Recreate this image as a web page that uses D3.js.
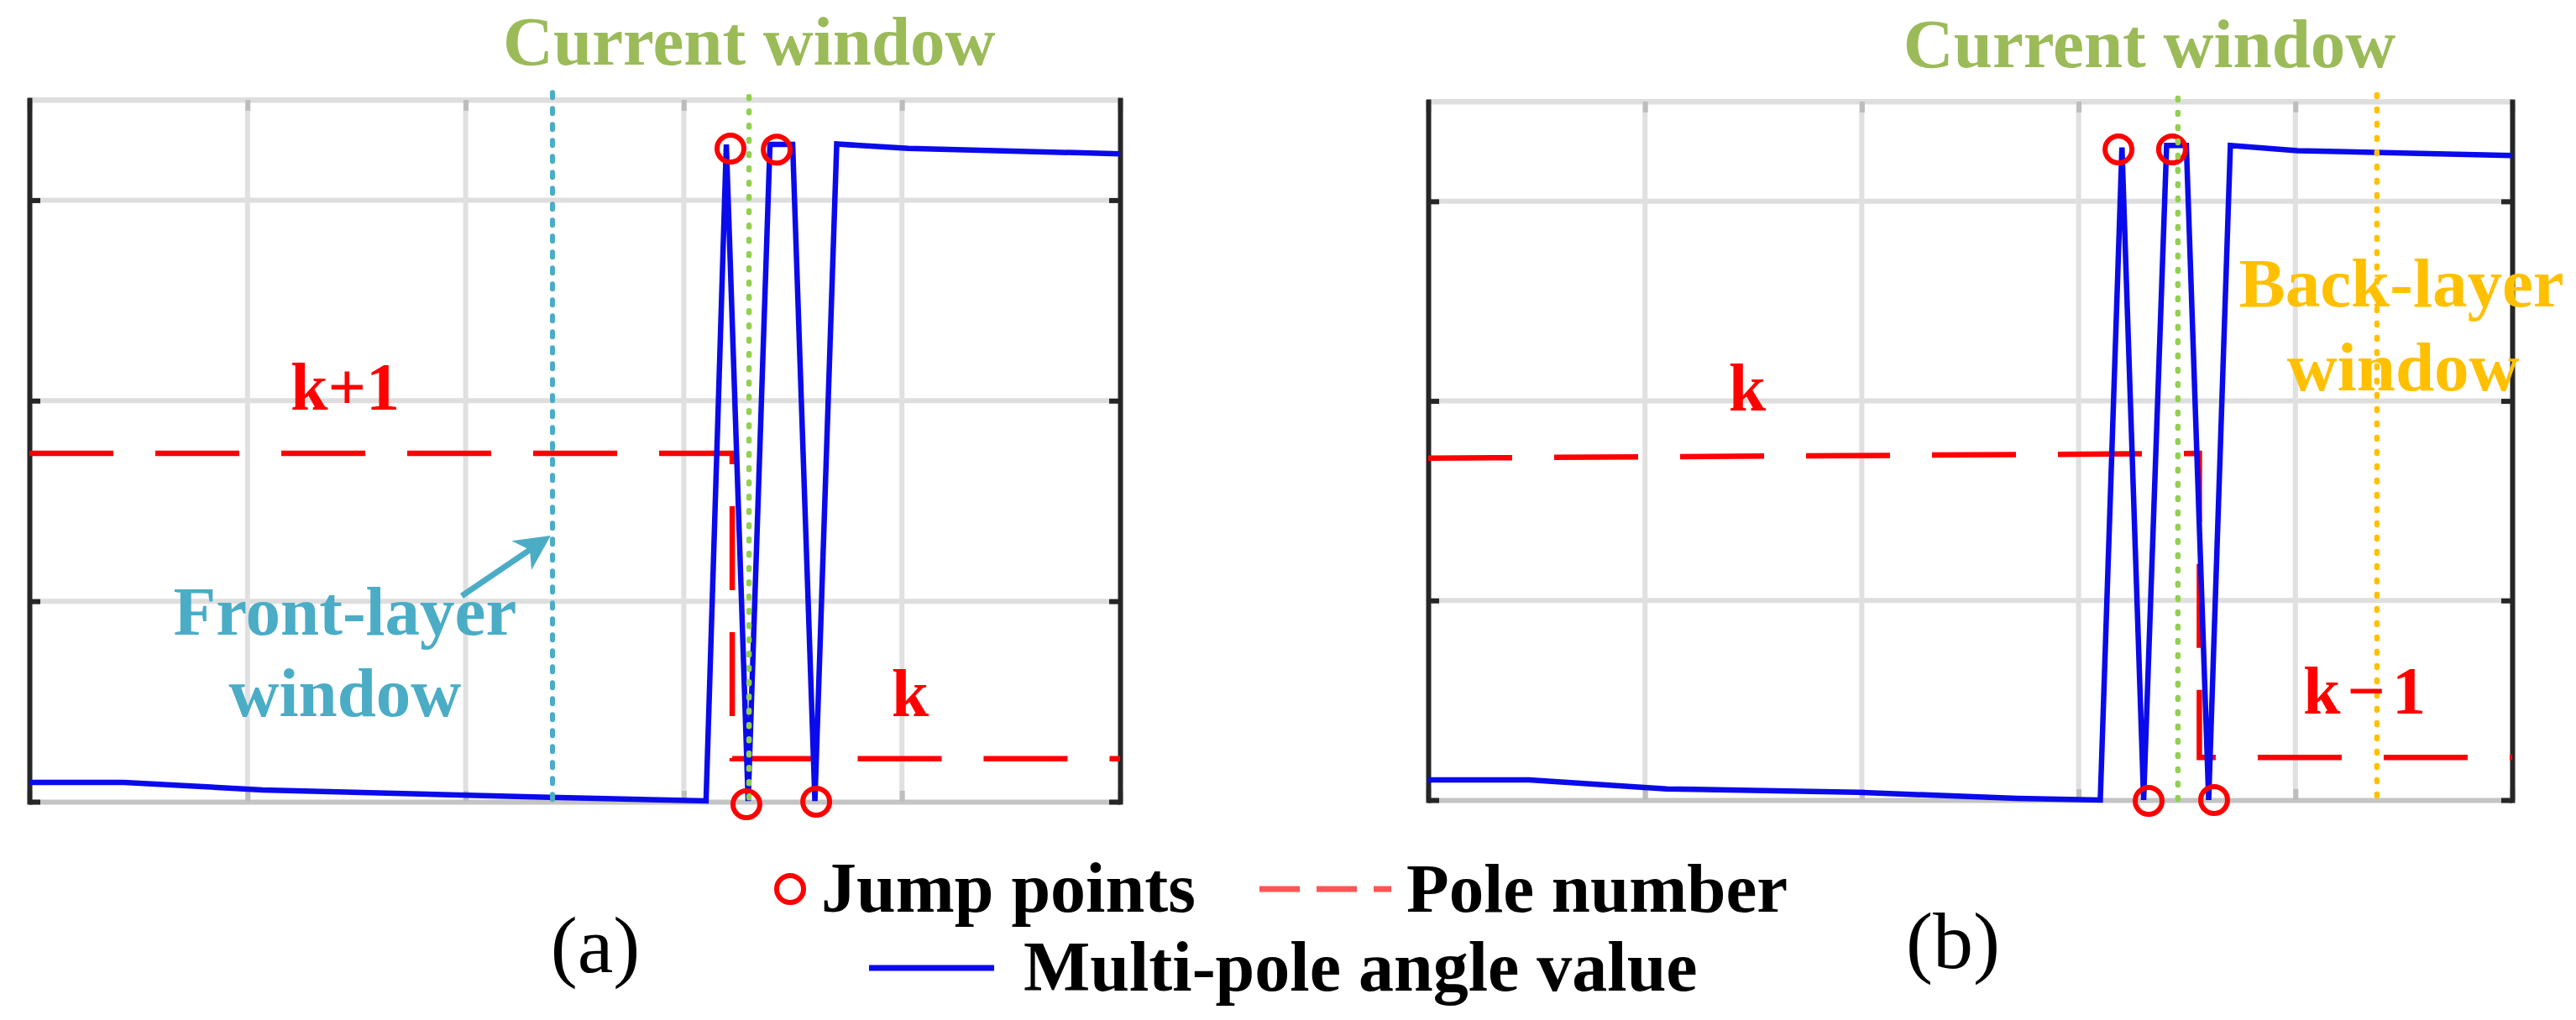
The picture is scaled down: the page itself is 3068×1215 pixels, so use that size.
<!DOCTYPE html>
<html>
<head>
<meta charset="utf-8">
<script src="https://cdn.jsdelivr.net/npm/d3@7"></script>
<style>
  body { margin: 0; background: #fff; }
  text { font-family: "Liberation Serif", "Times New Roman", serif; }
</style>
</head>
<body>
<svg id="chart" width="3068" height="1215"></svg>
<script>
// ticks (no labels shown in the figure)
const xTicks = [0, 1, 2, 3, 4, 5]
const yTicks = [0, 1, 2, 3]

// panel (a)
const angleA_x = [0, 0.433, 1.07, 2.344, 3.102, 3.195, 3.295, 3.395, 3.499, 3.601, 3.701, 4.03, 5]
const angleA_y = [0.096, 0.096, 0.059, 0.023, 0.004, 3.278, 0.004, 3.278, 3.278, 0.004, 3.28, 3.258, 3.231]
const poleA_x = [0, 3.222, 3.222, 5]
const poleA_y = [1.737, 1.737, 0.215, 0.215]
const jumpA_x = [3.214, 3.426, 3.287, 3.607]
const jumpA_y = [3.257, 3.252, -0.013, 0]

// panel (b)
const angleB_x = [0, 0.466, 1.10, 1.98, 2.715, 3.10, 3.20, 3.30, 3.406, 3.497, 3.60, 3.70, 4.01, 5]
const angleB_y = [0.101, 0.101, 0.056, 0.039, 0.008, 0.0, 3.27, 0.0, 3.28, 3.28, 0.0, 3.28, 3.254, 3.23]
const poleB_x = [0, 3.557, 3.557, 5]
const poleB_y = [1.713, 1.737, 0.214, 0.214]
const jumpB_x = [3.184, 3.431, 3.323, 3.625]
const jumpB_y = [3.26, 3.26, -0.004, 0]

// window positions (x) and top of the dotted lines (y)
const windowsA = [{name: "front", x: 2.398, top: 3.537}, {name: "current", x: 3.299, top: 3.516}]
const windowsB = [{name: "current", x: 3.458, top: 3.517}, {name: "back", x: 4.376, top: 3.534}]

const colors = {
  angle: "#0a0aeb", pole: "#ff0000", jump: "#ff0000",
  front: "#4bacc6", current: "#92d050", back: "#ffc000",
  currentText: "#9bbb59"
}

var svg = d3.select("#chart")
svg.append("rect").attr("width", 3068).attr("height", 1215).attr("fill", "#fff")

function zip(xs, ys) { return xs.map((d, i) => [d, ys[i]]) }

function draw_panel(box, d) {
  const x = d3.scaleLinear().domain([0, 5]).range([box.x0, box.x1])
  const y = d3.scaleLinear().domain([0, 3.5]).range([box.y1, box.y0])
  const g = svg.append("g")

  // grid
  g.selectAll(".hgrid").data([1, 2, 3, 3.5]).join("line")
    .attr("x1", box.x0).attr("x2", box.x1)
    .attr("y1", v => y(v)).attr("y2", v => y(v))
    .attr("stroke", "#dedede").attr("stroke-width", 6)
  g.selectAll(".vgrid").data([1, 2, 3, 4]).join("line")
    .attr("x1", v => x(v)).attr("x2", v => x(v))
    .attr("y1", box.y0).attr("y2", box.y1)
    .attr("stroke", "#e0e0e0").attr("stroke-width", 6)

  // x axes, gray
  const xb = g.append("g").attr("transform", `translate(0,${box.y1})`)
    .call(d3.axisBottom(x).tickValues(xTicks).tickSize(-13).tickSizeOuter(0).tickFormat(""))
  const xt = g.append("g").attr("transform", `translate(0,${box.y0})`)
    .call(d3.axisTop(x).tickValues(xTicks).tickSize(-13).tickSizeOuter(0).tickFormat(""))
  xb.select(".domain").attr("stroke", "#c4c4c4").attr("stroke-width", 6)
  xt.select(".domain").attr("stroke", "#dedede").attr("stroke-width", 6)
  g.selectAll(".tick line").attr("stroke", "#bdbdbd").attr("stroke-width", 6)

  // y axes, dark
  const yl = g.append("g").attr("transform", `translate(${box.x0},0)`)
    .call(d3.axisLeft(y).tickValues(yTicks).tickSize(-13).tickSizeOuter(0).tickFormat(""))
  const yr = g.append("g").attr("transform", `translate(${box.x1},0)`)
    .call(d3.axisRight(y).tickValues(yTicks).tickSize(-13).tickSizeOuter(0).tickFormat(""))
  ;[yl, yr].forEach(a => {
    a.select(".domain").attr("stroke", "#262626").attr("stroke-width", 6).attr("stroke-linecap", "square")
    a.selectAll(".tick line").attr("stroke", "#262626").attr("stroke-width", 6)
  })

  const line = d3.line().x(p => x(p[0])).y(p => y(p[1]))

  // pole number
  g.append("path").attr("d", line(zip(d.poleX, d.poleY)))
    .attr("fill", "none").attr("stroke", colors.pole).attr("stroke-width", 6.5)
    .attr("stroke-dasharray", "100 50")

  // multi-pole angle
  g.append("path").attr("d", line(zip(d.angleX, d.angleY)))
    .attr("fill", "none").attr("stroke", colors.angle).attr("stroke-width", 6.5)
    .attr("stroke-linejoin", "miter")

  // jump points
  g.selectAll(".jump").data(zip(d.jumpX, d.jumpY)).join("circle")
    .attr("cx", p => x(p[0])).attr("cy", p => y(p[1])).attr("r", 16)
    .attr("fill", "none").attr("stroke", colors.jump).attr("stroke-width", 6)

  // window lines
  d.windows.forEach(w => {
    g.append("line")
      .attr("x1", x(w.x)).attr("x2", x(w.x))
      .attr("y1", y(w.top)).attr("y2", y(0))
      .attr("stroke", colors[w.name]).attr("stroke-width", w.name == "front" ? 6 : 6.5)
      .attr("stroke-linecap", "round")
      .attr("stroke-dasharray", w.name == "front" ? "6 13" : "2 15")
  })

  // labels
  d.labels.forEach(l => {
    g.append("text").attr("x", x(l.x)).attr("y", y(l.y))
      .attr("text-anchor", "middle").attr("font-weight", "bold")
      .attr("font-size", l.size || 82).attr("fill", l.color)
      .attr("letter-spacing", l.spacing || 0)
      .text(l.text)
  })
  return {x: x, y: y, g: g}
}

var pa = draw_panel({x0: 35, x1: 1334, y0: 119, y1: 955}, {
  angleX: angleA_x, angleY: angleA_y, poleX: poleA_x, poleY: poleA_y,
  jumpX: jumpA_x, jumpY: jumpA_y, windows: windowsA,
  labels: [
    {text: "Current window", x: 3.30, y: 3.675, color: colors.currentText, size: 83},
    {text: "k+1", x: 1.447, y: 1.955, color: colors.pole, size: 80},
    {text: "k", x: 4.038, y: 0.427, color: colors.pole, size: 80},
    {text: "Front-layer", x: 1.447, y: 0.833, color: colors.front, size: 83},
    {text: "window", x: 1.447, y: 0.427, color: colors.front, size: 83}
  ]
})

var pb = draw_panel({x0: 1701, x1: 2992, y0: 121, y1: 953}, {
  angleX: angleB_x, angleY: angleB_y, poleX: poleB_x, poleY: poleB_y,
  jumpX: jumpB_x, jumpY: jumpB_y, windows: windowsB,
  labels: [
    {text: "Current window", x: 3.327, y: 3.673, color: colors.currentText, size: 83},
    {text: "k", x: 1.472, y: 1.952, color: colors.pole, size: 80},
    {text: "k\u22121", x: 4.334, y: 0.433, color: colors.pole, size: 80, spacing: 8},
    {text: "Back-layer", x: 4.489, y: 2.474, color: colors.back, size: 83},
    {text: "window", x: 4.497, y: 2.053, color: colors.back, size: 83}
  ]
})

// arrow pointing at the front-layer window line
var tail = [pa.x(1.982), pa.y(1.026)], tip = [pa.x(2.390), pa.y(1.327)]
var ang = Math.atan2(tip[1] - tail[1], tip[0] - tail[0])
function pt(along, side) {
  return [tip[0] - along * Math.cos(ang) - side * Math.sin(ang),
          tip[1] - along * Math.sin(ang) + side * Math.cos(ang)]
}
pa.g.append("line")
  .attr("x1", tail[0]).attr("y1", tail[1])
  .attr("x2", pt(30, 0)[0]).attr("y2", pt(30, 0)[1])
  .attr("stroke", colors.front).attr("stroke-width", 7)
pa.g.append("path")
  .attr("d", "M" + [tip, pt(42, -21), pt(30, 0), pt(42, 21)].join("L") + "Z")
  .attr("fill", colors.front)

// legend
var lg = svg.append("g")
lg.append("circle").attr("cx", 941).attr("cy", 1059).attr("r", 16)
  .attr("fill", "none").attr("stroke", colors.jump).attr("stroke-width", 6)
lg.append("text").attr("x", 978).attr("y", 1086).attr("font-size", 84).attr("font-weight", "bold").text("Jump points")
lg.append("line").attr("x1", 1500).attr("x2", 1657).attr("y1", 1059).attr("y2", 1059)
  .attr("stroke", "#ff5555").attr("stroke-width", 7).attr("stroke-dasharray", "48 20")
lg.append("text").attr("x", 1675).attr("y", 1086).attr("font-size", 83).attr("font-weight", "bold").text("Pole number")
lg.append("line").attr("x1", 1035).attr("x2", 1184).attr("y1", 1153).attr("y2", 1153)
  .attr("stroke", colors.angle).attr("stroke-width", 7)
lg.append("text").attr("x", 1219).attr("y", 1180).attr("font-size", 84).attr("font-weight", "bold").text("Multi-pole angle value")

// panel captions
svg.append("text").attr("x", 709).attr("y", 1158).attr("font-size", 96).attr("text-anchor", "middle").text("(a)")
svg.append("text").attr("x", 2326).attr("y", 1153).attr("font-size", 96).attr("text-anchor", "middle").text("(b)")
</script>
</body>
</html>
